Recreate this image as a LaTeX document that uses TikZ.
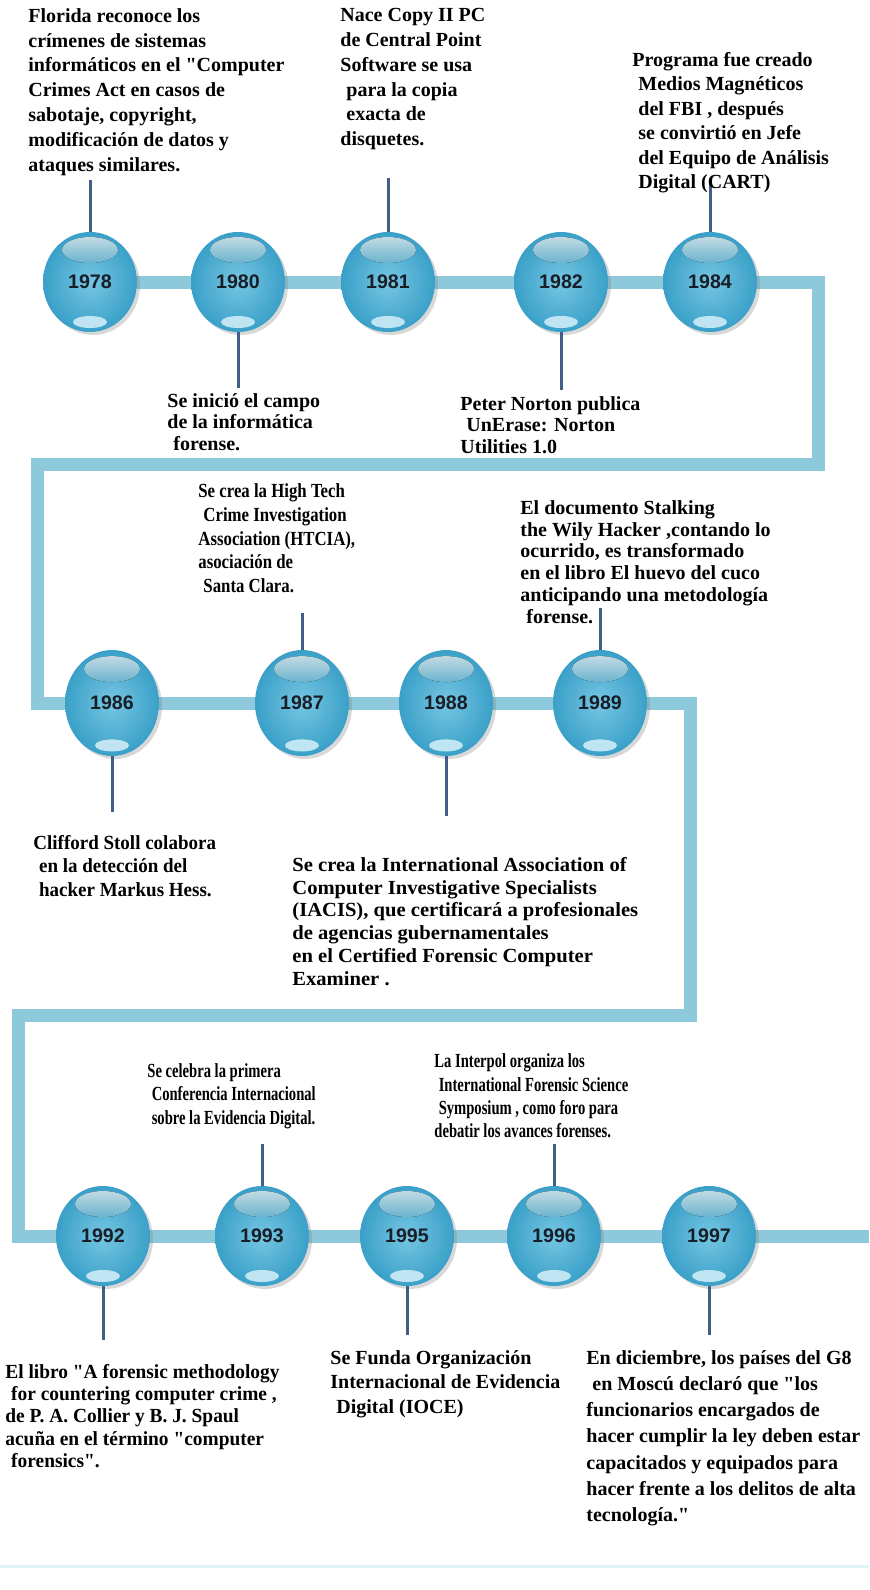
\documentclass[tikz,border=0pt]{standalone}
\usepackage{fontspec}
\usepackage{graphicx}
\setmainfont{Liberation Serif}[Ligatures=TeXOff]
\newfontfamily\yearfont{Liberation Sans}
\usetikzlibrary{shapes.geometric,shadows}
\definecolor{barblue}{RGB}{142,201,219}
\definecolor{poleblue}{RGB}{64,94,134}
\definecolor{ballout}{RGB}{58,160,200}
\definecolor{ballin}{RGB}{118,198,226}
\definecolor{balllight}{RGB}{214,240,249}
\definecolor{yeartext}{RGB}{24,30,40}
\definecolor{floorline}{RGB}{222,243,248}
\newcommand\ind{\hspace*{.3em}}
\newcommand\squeeze[2]{\scalebox{#1}[1]{\begin{tabular}{@{}l@{}}#2\end{tabular}}}
\pgfdeclarelayer{back}
\pgfsetlayers{back,main}

\begin{document}
\begin{tikzpicture}[x=0.5pt, y=-0.5pt,
  bar/.style={draw=barblue, line width=6.5pt, line join=miter},
  pole/.style={draw=poleblue, line width=1.5pt},
  ball/.style={ellipse, minimum width=47pt, minimum height=50pt, inner sep=0pt,
    shading=radial, inner color=ballin, outer color=ballout,
    drop shadow={opacity=0.3, shadow xshift=1.5pt, shadow yshift=-1.5pt},
    font=\yearfont\bfseries\fontsize{9.8}{10}\selectfont, text=yeartext},
  note/.style={anchor=north west, inner sep=0pt, align=left},
  sz/.style={font=\bfseries\fontsize{10}{#1}\selectfont}]
	\useasboundingbox (0,0) rectangle (869,1590);
	\begin{pgfonlayer}{back}
	    \fill[white] (0,0) rectangle (869,1590);
	\end{pgfonlayer}
	\draw[floorline, line width=1.5pt] (0,1566) -- (869,1566);

	% year balls
	\foreach \yr/\px/\py/\bh in {1978/90/282/50, 1980/238/282/50, 1981/388/282/50, 1982/561/282/50, 1984/710/282/50,
	    1986/112/703/53, 1987/302/703/53, 1988/446/703/53, 1989/600/703/53,
	    1992/103/1236/50, 1993/262/1236/50, 1995/407/1236/50, 1996/554/1236/50, 1997/709/1236/50} {
	    \node[ball, minimum height=\bh pt] (y\yr) at (\px,\py) {\yr};
	    \fill[top color=balllight, bottom color=ballin, opacity=0.9] (\px,\py-\bh*0.64) ellipse [x radius=28, y radius=13];
	    \fill[balllight, opacity=0.85] (\px,\py+\bh*0.8) ellipse [x radius=17, y radius=6];
	}

	% the track
	\coordinate (c1) at (818,282);
	\coordinate (c2) at (818,464);
	\coordinate (c3) at (37,464);
	\coordinate (c4) at (37,703);
	\coordinate (c5) at (690,703);
	\coordinate (c6) at (690,1015);
	\coordinate (c7) at (18,1015);
	\coordinate (c8) at (18,1236);
	\coordinate (c9) at (869,1236);
	\begin{pgfonlayer}{back}
	    \draw[bar] (y1978) -- (c1) -- (c2) -- (c3) -- (c4) -- (y1989) -- (c5) -- (c6) -- (c7) -- (c8) -- (c9);
	\end{pgfonlayer}

	% pole ends
	\coordinate (e1978) at (90,180);
	\coordinate (e1980) at (238,388);
	\coordinate (e1981) at (388,178);
	\coordinate (e1982) at (561,390);
	\coordinate (e1984) at (710,183);
	\coordinate (e1986) at (112,812);
	\coordinate (e1987) at (302,613);
	\coordinate (e1988) at (446,816);
	\coordinate (e1989) at (600,608);
	\coordinate (e1992) at (103,1340);
	\coordinate (e1993) at (262,1144);
	\coordinate (e1995) at (407,1335);
	\coordinate (e1996) at (554,1144);
	\coordinate (e1997) at (709,1335);
	\foreach \yr in {1978,1980,1981,1982,1984,1986,1987,1988,1989,1992,1993,1995,1996,1997}
	    \draw[pole] (y\yr) -- (e\yr);

	% notes
	\node[note, sz=12.4] (n1978) at (28,8) {Florida reconoce los\\crímenes de sistemas\\informáticos en el "Computer\\Crimes Act en casos de\\sabotaje, copyright,\\modificación de datos y\\ataques similares.};
	\node[note, sz=12.4] (n1981) at (340,8) {Nace Copy II PC\\de Central Point\\Software se usa\\\ind para la copia\\\ind exacta de\\disquetes.};
	\node[note, sz=12.2] (n1984) at (632,52) {Programa fue creado\\\ind Medios Magnéticos\\\ind del FBI , después\\\ind se convirtió en Jefe\\\ind del Equipo de Análisis\\\ind Digital (CART)};
	\node[note, sz=10.8] (n1980) at (167,393) {Se inició el campo\\de la informática\\\ind forense.};
	\node[note, sz=10.8] (n1982) at (460,396) {Peter Norton publica\\\ind UnErase: Norton\\Utilities 1.0};
	\node[note, sz=11.8] (n1987) at (198,481) {\squeeze{0.84}{Se crea la High Tech\\\ind Crime Investigation\\Association (HTCIA),\\asociación de\\\ind Santa Clara.}};
	\node[note, sz=10.9] (n1989) at (520,500) {El documento Stalking\\the Wily Hacker ,contando lo\\ocurrido, es transformado\\en el libro El huevo del cuco\\anticipando una metodología\\\ind forense.};
	\node[note, sz=11.9] (n1986) at (33,832) {\squeeze{0.95}{Clifford Stoll colabora\\\ind en la detección del\\\ind hacker Markus Hess.}};
	\node[note, sz=11.4] (n1988) at (292,855) {\squeeze{1.03}{Se crea la International Association of\\Computer Investigative Specialists\\(IACIS), que certificará a profesionales\\de agencias gubernamentales\\en el Certified Forensic Computer\\Examiner .}};
	\node[note, sz=11.9] (n1993) at (147,1060) {\squeeze{0.73}{Se celebra la primera\\\ind Conferencia Internacional\\\ind sobre la Evidencia Digital.}};
	\node[note, sz=11.7] (n1996) at (434,1051) {\squeeze{0.73}{La Interpol organiza los\\\ind International Forensic Science\\\ind Symposium , como foro para\\debatir los avances forenses.}};
	\node[note, sz=11.2] (n1992) at (5,1362) {\squeeze{0.97}{El libro "A forensic methodology\\\ind for countering computer crime ,\\de P. A. Collier y B. J. Spaul\\acuña en el término "computer\\\ind forensics".}};
	\node[note, sz=12.2] (n1995) at (330,1350) {Se Funda Organización\\Internacional de Evidencia\\\ind Digital (IOCE)};
	\node[note, sz=13.1] (n1997) at (586,1350) {En diciembre, los países del G8\\\ind en Moscú declaró que "los\\funcionarios encargados de\\hacer cumplir la ley deben estar\\capacitados y equipados para\\hacer frente a los delitos de alta\\tecnología."};
\end{tikzpicture}
\end{document}
